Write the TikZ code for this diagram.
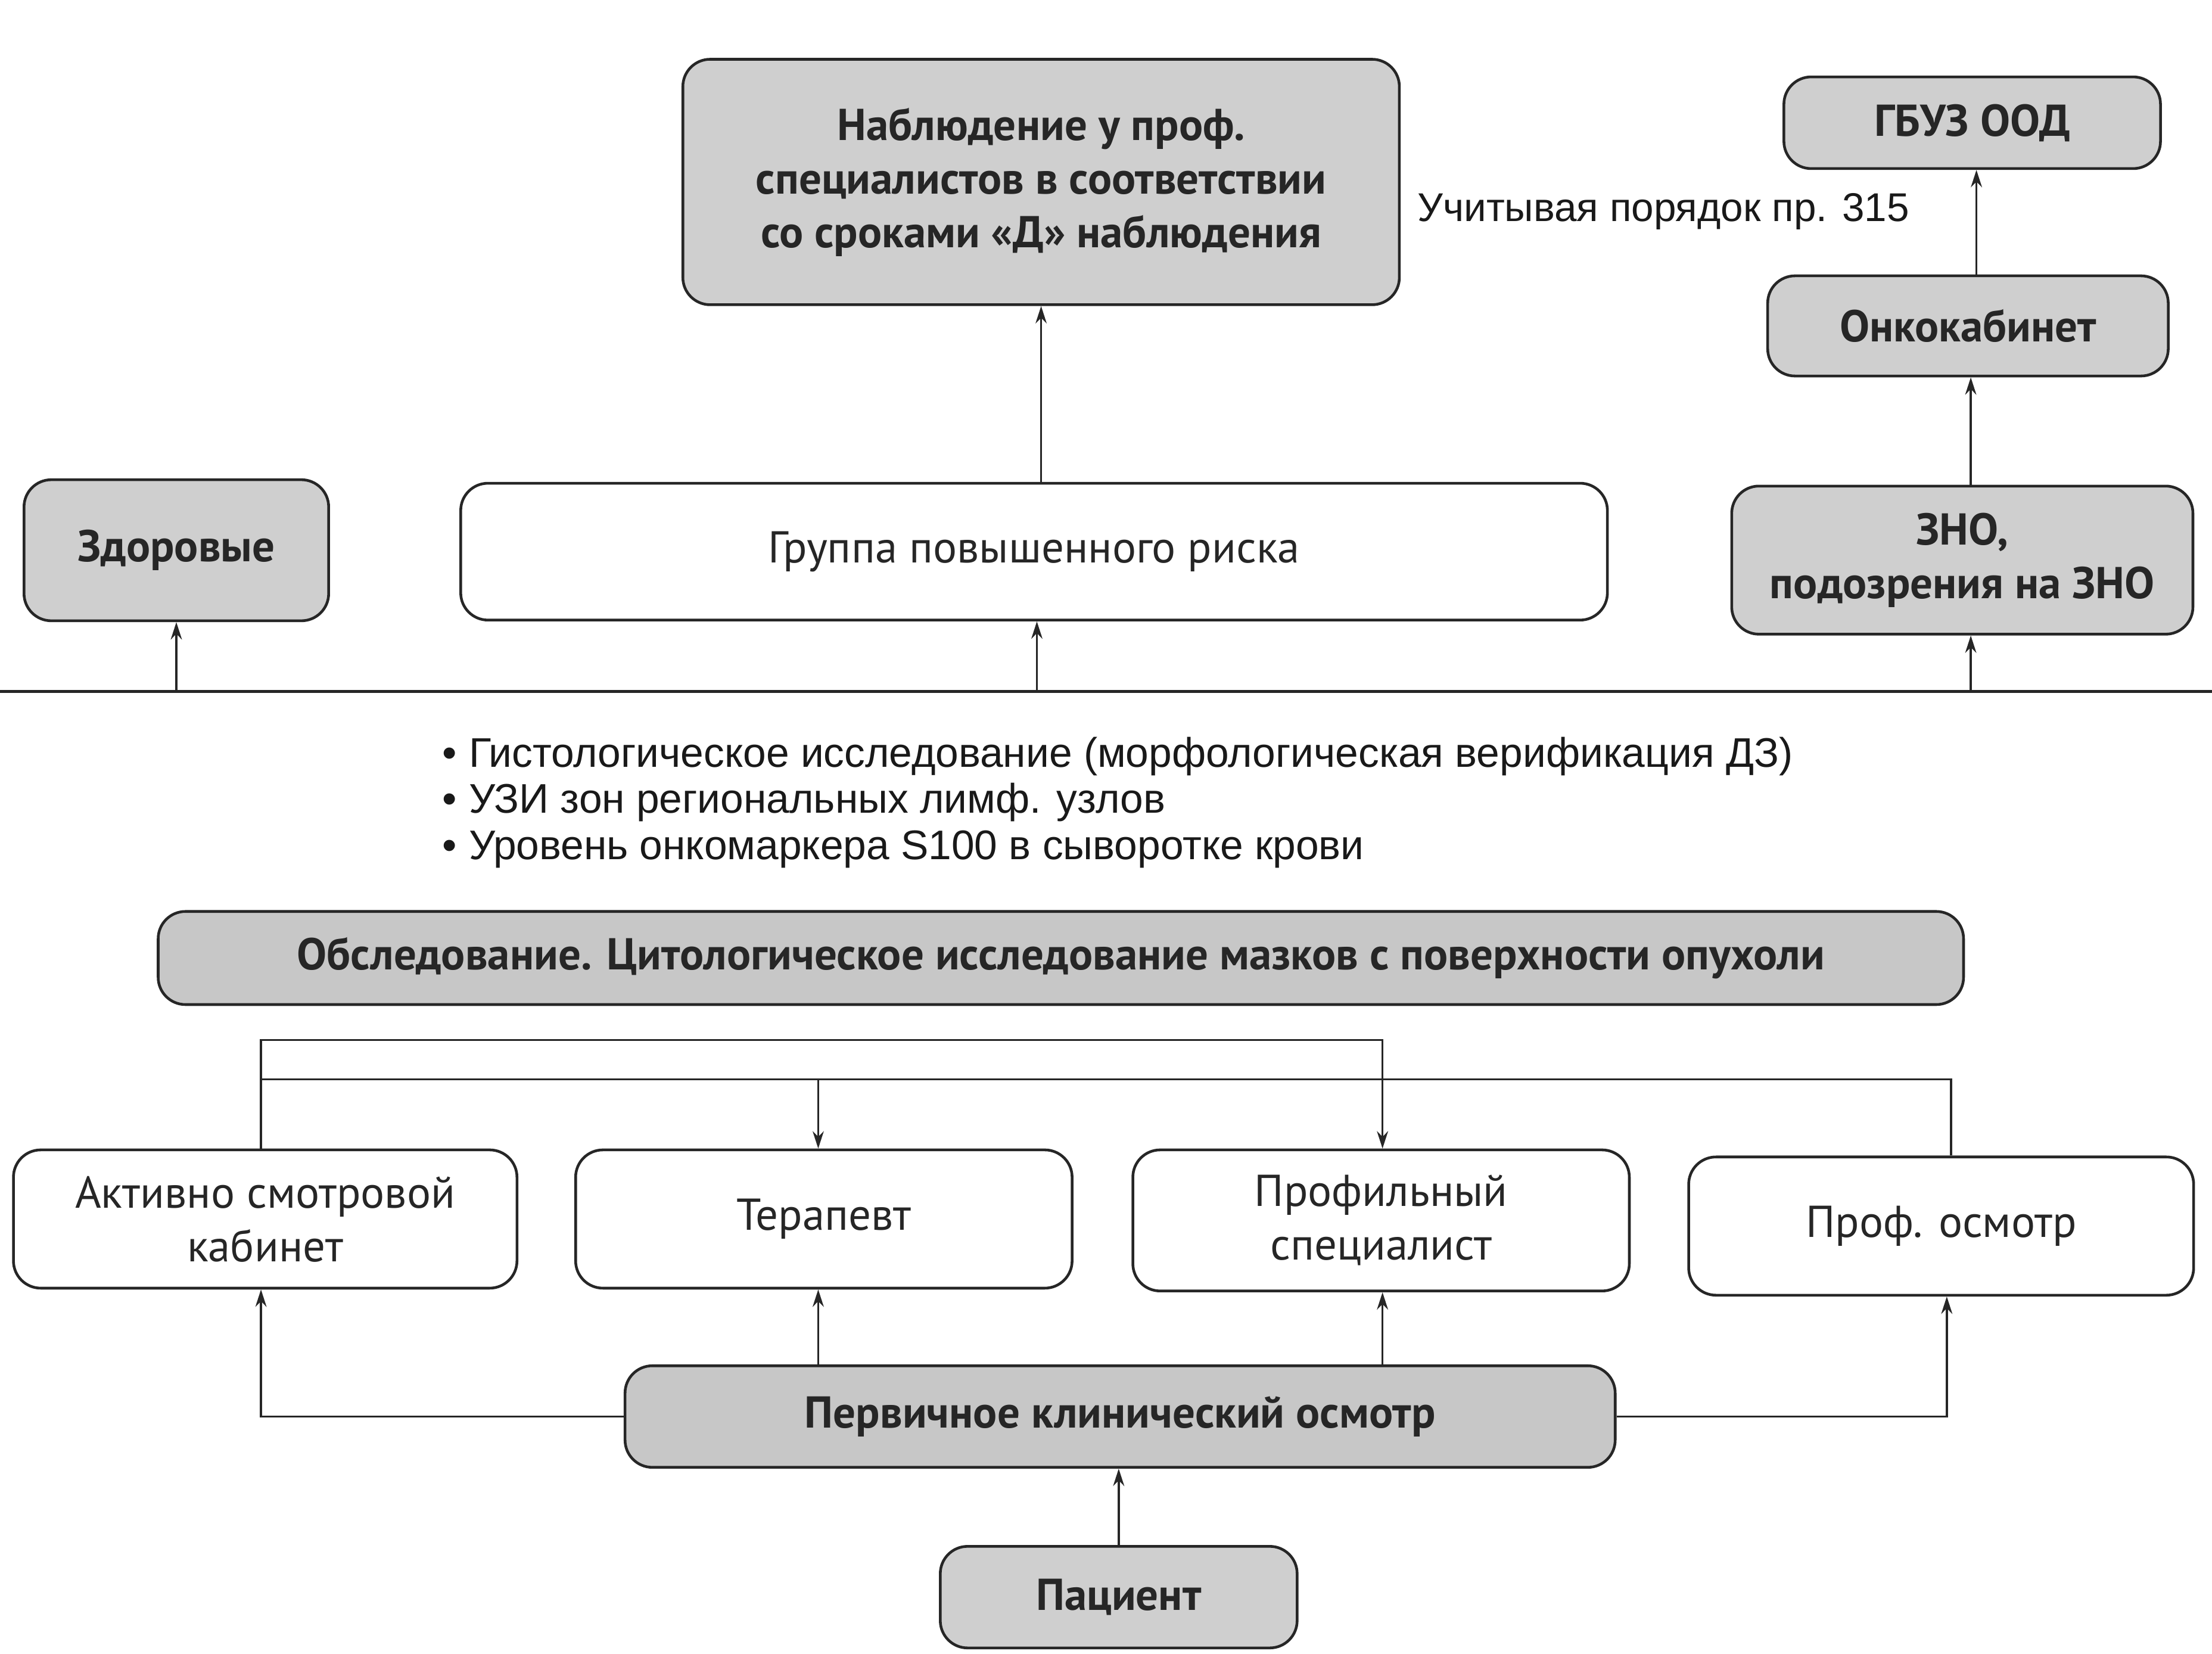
\documentclass[tikz,border=0pt]{standalone}
\usepackage{fontspec}
\setmainfont{Liberation Sans}
\newfontfamily\labfont{PT Sans}
\usetikzlibrary{arrows.meta}

\begin{document}
\begin{tikzpicture}[x=0.02cm,y=-0.02cm,
  box/.style={draw=black!85, line width=1.1pt, rounded corners=11pt, align=center,
    inner sep=2pt, text=black!85, font=\labfont\fontsize{18}{21.6}\selectfont},
  graybox/.style={box, fill=black!19, font=\labfont\bfseries\fontsize{18}{21.6}\selectfont},
  whitebox/.style={box, fill=white},
  link/.style={draw=black!85, line width=0.8pt},
  arr/.style={link, -{Stealth[length=7pt,width=4.5pt]}},
  plain/.style={text=black!90, font=\fontsize{16.7}{18.6}\selectfont}
]
% canvas
\fill[white] (0,0) rectangle (1568,1172);
\useasboundingbox (0,0) rectangle (1568,1172);

% upper tier
\node[graybox, minimum width=10.16cm, minimum height=3.48cm] (nab) at (738,129)
  {Наблюдение у проф.\\специалистов в соответствии\\со сроками «Д» наблюдения};
\node[plain, anchor=west, fill=white, inner sep=2pt, font=\fontsize{16.2}{18.6}\selectfont] (ref) at (1001,150)
  {Учитывая порядок пр. 315};
\node[graybox, minimum width=5.34cm, minimum height=1.30cm] (gbuz) at (1398,87) {ГБУЗ ООД};
\node[graybox, minimum width=5.68cm, minimum height=1.42cm] (onko) at (1395,231) {Онкокабинет};
\node[graybox, minimum width=6.54cm, minimum height=2.10cm] (zno) at (1391,397)
  {ЗНО,\\подозрения на ЗНО};
\node[graybox, minimum width=4.32cm, minimum height=2.00cm] (zdor) at (125,390) {Здоровые};
\node[whitebox, minimum width=16.26cm, minimum height=1.94cm] (grp) at (733,391)
  {Группа повышенного риска};

% divider
\coordinate (hl) at (0,490);
\coordinate (hr) at (1568,490);
\draw[draw=black!85, line width=1.2pt] (hl) -- (hr);

% arrows of the upper tier
\draw[arr] (grp.north -| nab.south) -- (nab.south);
\draw[arr] ([xshift=0.12cm]onko.north) -- ([xshift=0.12cm]onko.north |- gbuz.south);
\draw[arr] ([xshift=0.12cm]zno.north) -- ([xshift=0.12cm]zno.north |- onko.south);
\draw[arr] (zdor.south |- hl) -- (zdor.south);
\draw[arr] ([xshift=0.04cm]grp.south |- hl) -- ([xshift=0.04cm]grp.south);
\draw[arr] ([xshift=0.12cm]zno.south |- hl) -- ([xshift=0.12cm]zno.south);

% examinations list
\node[plain, anchor=north west, align=left, inner sep=0pt] (list) at (313,522)
  {•\hspace{0.3em}Гистологическое исследование (морфологическая верификация ДЗ)\\
   •\hspace{0.3em}УЗИ зон региональных лимф. узлов\\
   •\hspace{0.3em}Уровень онкомаркера S100 в сыворотке крови};

% lower tier
\node[graybox, minimum width=25.6cm, minimum height=1.32cm, fill=black!22] (obsl) at (752,679)
  {Обследование. Цитологическое исследование мазков с поверхности опухоли};
\node[whitebox, minimum width=7.14cm, minimum height=1.96cm] (akt) at (188,864)
  {Активно смотровой\\кабинет};
\node[whitebox, minimum width=7.04cm, minimum height=1.96cm] (ter) at (584,864) {Терапевт};
\node[whitebox, minimum width=7.04cm, minimum height=2.00cm] (prof) at (979,865)
  {Профильный\\специалист};
\node[whitebox, minimum width=7.16cm, minimum height=1.96cm] (posm) at (1376,869) {Проф. осмотр};
\node[graybox, minimum width=14.04cm, minimum height=1.44cm, fill=black!22] (perv) at (794,1004)
  {Первичное клинический осмотр};
\node[graybox, minimum width=5.06cm, minimum height=1.44cm] (pac) at (793,1132) {Пациент};

% referral lines between the specialists
\coordinate (top1) at (0,737);
\coordinate (top2) at (0,765);
\draw[arr] ([xshift=-0.06cm]akt.north) |- ([xshift=0.02cm]prof.north |- top1) -- ([xshift=0.02cm]prof.north);
\draw[link] ([xshift=0.14cm]posm.north) |- ([xshift=-0.06cm]akt.north |- top2);
\draw[arr] ([xshift=-0.08cm]ter.north |- top2) -- ([xshift=-0.08cm]ter.north);

% from the primary examination
\draw[arr] (perv.west) -| ([xshift=-0.06cm]akt.south);
\draw[arr] (perv.east) -| ([xshift=0.08cm]posm.south);
\draw[arr] ([xshift=-0.08cm]ter.south |- perv.north) -- ([xshift=-0.08cm]ter.south);
\draw[arr] ([xshift=0.02cm]prof.south |- perv.north) -- ([xshift=0.02cm]prof.south);
\draw[arr] (pac.north) -- (pac.north |- perv.south);
\end{tikzpicture}
\end{document}
